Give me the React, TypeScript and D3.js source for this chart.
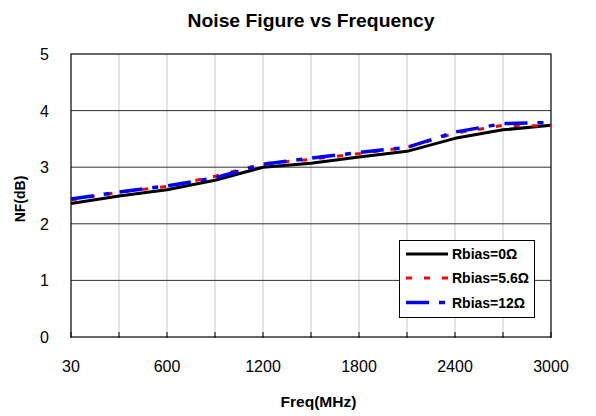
import React from "react";
import * as d3 from "d3";

const categories = ["30", "300", "600", "900", "1200", "1500", "1800", "2100", "2400", "2700", "3000"];
const tickLabels = ["30", "600", "1200", "1800", "2400", "3000"];
const yTicks = [0, 1, 2, 3, 4, 5];
const rbias0 = [2.36, 2.49, 2.6, 2.77, 3.0, 3.07, 3.18, 3.28, 3.51, 3.66, 3.74];
const rbias56 = [2.42, 2.56, 2.66, 2.84, 3.06, 3.14, 3.24, 3.35, 3.6, 3.74, 3.73];
const rbias12 = [2.44, 2.56, 2.67, 2.81, 3.05, 3.16, 3.26, 3.35, 3.62, 3.77, 3.79];
const seriesNames = ["Rbias=0Ω", "Rbias=5.6Ω", "Rbias=12Ω"];

const W = 596, H = 416;
const L = 71, R = 551, T = 54, B = 337;
const FONT = "'Liberation Sans', Arial, sans-serif";

export default function App() {
  const x = d3.scalePoint<string>().domain(categories).range([L, R]);
  const y = d3.scaleLinear().domain([0, 5]).range([B, T]);
  const line = d3.line<number>().x((_, i) => x(categories[i])!).y((v) => y(v));

  const series = [
    { name: seriesNames[0], data: rbias0, color: "#000000", width: 3, dash: "" },
    { name: seriesNames[1], data: rbias56, color: "#ff0000", width: 3, dash: "6,12" },
    { name: seriesNames[2], data: rbias12, color: "#0000ff", width: 3.5, dash: "23,10,6,10" },
  ];

  const lgX = 399.5, lgY = 240.5, lgW = 135, lgH = 77;
  const rows = [254, 278, 302.5];

  return (
    <svg width={W} height={H} style={{ position: "absolute", left: 0, top: 0, background: "#fff" }} fontFamily={FONT}>
      <rect x={0} y={0} width={W} height={H} fill="#fff" />
      <text x={311} y={27} textAnchor="middle" fontWeight="bold" fontSize={17.5} textLength={247} lengthAdjust="spacingAndGlyphs">Noise Figure vs Frequency</text>
      {categories.map((c, i) => i > 0 && i < categories.length - 1 ? (
        <line key={"vg" + c} x1={x(c)} x2={x(c)} y1={T} y2={B} stroke="#c8c8c8" strokeWidth={1} />
      ) : null)}
      {yTicks.map((t) => t > 0 && t < 5 ? (
        <line key={"hg" + t} x1={L} x2={R} y1={y(t)} y2={y(t)} stroke="#333" strokeWidth={1} />
      ) : null)}
      {categories.map((c) => (
        <line key={"xt" + c} x1={x(c)} x2={x(c)} y1={B - 5} y2={B + 1} stroke="#000" strokeWidth={1} />
      ))}
      <rect x={L} y={T} width={R - L} height={B - T} fill="none" stroke="#000" strokeWidth={1.2} />
      {yTicks.map((t) => (
        <text key={"yl" + t} x={49} y={y(t) + 6} textAnchor="end" fontSize={16}>{t}</text>
      ))}
      {tickLabels.map((c) => (
        <text key={"xl" + c} x={x(c)} y={372} textAnchor="middle" fontSize={16}>{c}</text>
      ))}
      <text x={318.5} y={407} textAnchor="middle" fontWeight="bold" fontSize={14} textLength={76} lengthAdjust="spacingAndGlyphs">Freq(MHz)</text>
      <text transform="translate(25,199) rotate(-90)" textAnchor="middle" fontWeight="bold" fontSize={14}>NF(dB)</text>
      {series.map((s) => (
        <path key={s.name} d={line(s.data) || ""} fill="none" stroke={s.color} strokeWidth={s.width}
          strokeDasharray={s.dash || undefined} strokeLinejoin="round" />
      ))}
      <rect x={lgX} y={lgY} width={lgW} height={lgH} fill="#fff" stroke="#000" strokeWidth={1} />
      {series.map((s, i) => (
        <g key={"lg" + i}>
          <line x1={406} x2={448} y1={rows[i]} y2={rows[i]} stroke={s.color} strokeWidth={s.width}
            strokeDasharray={s.dash || undefined} />
          <text x={452} y={rows[i] + 5} fontWeight="bold" fontSize={14}>{s.name}</text>
        </g>
      ))}
    </svg>
  );
}
